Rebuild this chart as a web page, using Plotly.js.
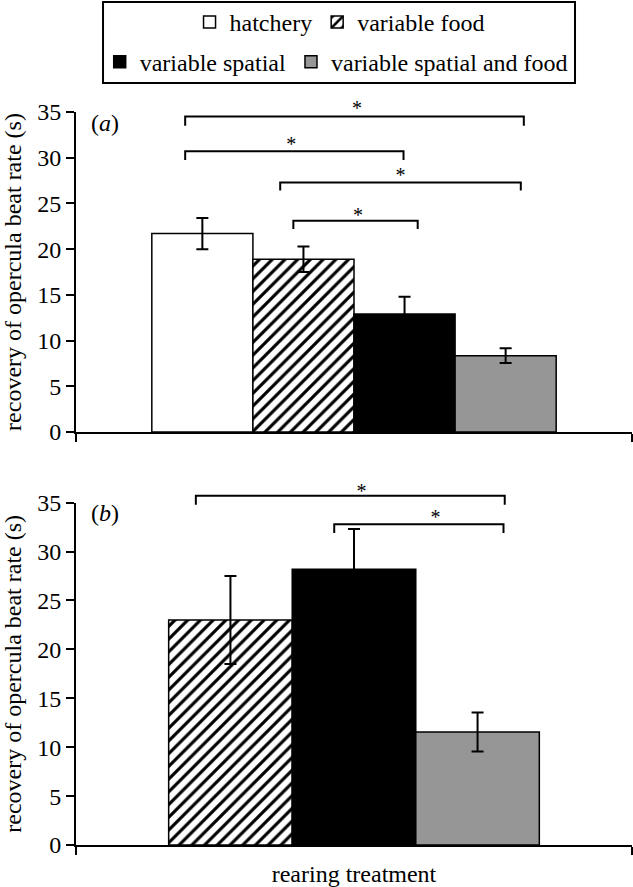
<!DOCTYPE html>
<html><head><meta charset="utf-8">
<script src="https://cdn.plot.ly/plotly-3.0.1.min.js"></script>
<style>html,body{margin:0;padding:0;background:#fff}</style>
</head><body><div id="chart" style="width:633px;height:887px"></div>
<script>
// ---- data ----
const categories = ['hatchery', 'variable food', 'variable spatial', 'variable spatial and food'];
const valuesA = [21.7, 18.9, 12.9, 8.35];
const errorsA = [1.7, 1.4, 1.9, 0.8];
const valuesB = [null, 23.0, 28.2, 11.55];
const errorsB = [null, 4.5, 4.1, 2.0];
const fillColors = ['#ffffff', '#ffffff', '#000000', '#969696'];
const patternShapes = ['', '/', '', ''];
const yTickVals = [0, 5, 10, 15, 20, 25, 30, 35];
const panelLabels = ['(<i>a</i>)', '(<i>b</i>)'];

// significance brackets, panel (a)
const bracketsA_x0 = [0.83, 0.83, 1.77, 1.90];
const bracketsA_x1 = [4.18, 2.99, 4.15, 3.13];
const bracketsA_y = [34.5, 30.7, 27.3, 23.1];
const bracketsA_drop = [1.0, 0.95, 0.9, 0.9];
const starsA_x = [2.53, 1.88, 2.96, 2.54];
const starsA_y = [35.2, 31.3, 27.9, 23.5];
// significance brackets, panel (b)
const bracketsB_x0 = [0.72, 1.84];
const bracketsB_x1 = [3.22, 3.21];
const bracketsB_y = [35.7, 32.8];
const bracketsB_drop = [0.9, 0.9];
const starsB_x = [2.06, 2.66];
const starsB_y = [35.95, 33.35];

// ---- build ----
const FONT = 'Liberation Serif, Times New Roman, serif';
const Y_MAX = 35, Y_EXT = 40;
const domA = [0.48876, 0.86746];
const domB = [0, 0.40509];
const extTop = d => d[0] + (d[1] - d[0]) * Y_EXT / Y_MAX;

const traces = [];
let posB = 0;
categories.forEach((c, i) => {
  const marker = {
    color: fillColors[i],
    line: {color: '#000', width: 1.5},
    pattern: {shape: patternShapes[i], fgcolor: '#000', bgcolor: fillColors[i], size: 9, solidity: 0.35}
  };
  traces.push({
    type: 'bar', name: c, x: [i + 1], y: [valuesA[i]], width: [1],
    xaxis: 'x', yaxis: 'y', marker: marker,
    error_y: {type: 'data', array: [errorsA[i]], color: '#000', thickness: 2, width: 6},
    legend: i < 2 ? 'legend' : 'legend2', showlegend: true, hoverinfo: 'skip'
  });
  if (valuesB[i] !== null) {
    posB += 1;
    traces.push({
      type: 'bar', name: c, x: [posB], y: [valuesB[i]], width: [1],
      xaxis: 'x2', yaxis: 'y2', marker: marker,
      error_y: {type: 'data', array: [errorsB[i]], color: '#000', thickness: 2, width: 6},
      showlegend: false, hoverinfo: 'skip'
    });
  }
});

function addBrackets(x0s, x1s, ys, drops, sx, sy, xa, ya) {
  x0s.forEach((x0, k) => {
    traces.push({
      type: 'scatter', mode: 'lines', xaxis: xa, yaxis: ya,
      x: [x0, x0, x1s[k], x1s[k]],
      y: [ys[k] - drops[k], ys[k], ys[k], ys[k] - drops[k]],
      line: {color: '#000', width: 2}, cliponaxis: false, showlegend: false, hoverinfo: 'skip'
    });
  });
  traces.push({
    type: 'scatter', mode: 'text', xaxis: xa, yaxis: ya,
    x: sx, y: sy, text: sx.map(() => '*'), textposition: 'middle center',
    textfont: {family: FONT, size: 20, color: '#000'},
    cliponaxis: false, showlegend: false, hoverinfo: 'skip'
  });
}
// brackets live on hidden axes that share the bar axes' scale but reach a little higher
addBrackets(bracketsA_x0, bracketsA_x1, bracketsA_y, bracketsA_drop, starsA_x, starsA_y, 'x', 'y3');
addBrackets(bracketsB_x0, bracketsB_x1, bracketsB_y, bracketsB_drop, starsB_x, starsB_y, 'x2', 'y4');

const xBase = {
  showgrid: false, zeroline: false, showline: true, linecolor: '#000', linewidth: 2,
  tickmode: 'array', ticks: 'outside', ticklen: 8, tickwidth: 2, tickcolor: '#000',
  showticklabels: false, fixedrange: true
};
const yBase = {
  range: [0, Y_MAX], tickmode: 'array', tickvals: yTickVals, ticks: 'outside', ticklen: 8,
  tickwidth: 2, tickcolor: '#000', showline: true, linecolor: '#000', linewidth: 2,
  showgrid: false, zeroline: false, tickfont: {family: FONT, size: 24, color: '#000'},
  automargin: 'left', fixedrange: true
};
const yHidden = {
  range: [0, Y_EXT], visible: false, showgrid: false, zeroline: false, showline: false,
  showticklabels: false, ticks: '', fixedrange: true
};
const legendBase = {
  orientation: 'h', xanchor: 'center', yanchor: 'top', bgcolor: 'rgba(0,0,0,0)',
  borderwidth: 0, font: {family: FONT, size: 24, color: '#000'}, traceorder: 'normal',
  itemclick: false, itemdoubleclick: false
};

const layout = {
  width: 633, height: 887,
  margin: {l: 76, r: 1, t: 0, b: 42},
  paper_bgcolor: '#fff', plot_bgcolor: 'rgba(0,0,0,0)',
  font: {family: FONT, size: 24, color: '#000'},
  barmode: 'overlay',
  xaxis: Object.assign({}, xBase, {domain: [0, 1], anchor: 'y', range: [-0.25, 5.25], tickvals: [-0.25, 5.25]}),
  yaxis: Object.assign({}, yBase, {domain: domA, anchor: 'x',
    title: {text: 'recovery of opercula beat rate (s)', font: {family: FONT, size: 24}, standoff: 12}}),
  xaxis2: Object.assign({}, xBase, {domain: [0, 1], anchor: 'y2', range: [-0.25, 4.25], tickvals: [-0.25, 4.25],
    title: {text: 'rearing treatment', font: {family: FONT, size: 24}}}),
  yaxis2: Object.assign({}, yBase, {domain: domB, anchor: 'x2',
    title: {text: 'recovery of opercula beat rate (s)', font: {family: FONT, size: 24}, standoff: 12}}),
  yaxis3: Object.assign({}, yHidden, {domain: [domA[0], extTop(domA)], anchor: 'x'}),
  yaxis4: Object.assign({}, yHidden, {domain: [domB[0], extTop(domB)], anchor: 'x2'}),
  legend: Object.assign({}, legendBase, {x: 0.474, y: 1.0}),
  legend2: Object.assign({}, legendBase, {x: 0.468, y: 0.953}),
  shapes: [{type: 'rect', xref: 'paper', yref: 'paper', x0: 0.0486, x1: 0.8975, y0: 0.9018, y1: 0.9976,
    line: {color: '#000', width: 2}, fillcolor: 'rgba(0,0,0,0)'}],
  annotations: [
    {xref: 'x domain', yref: 'y domain', x: 0.052, y: 0.966, text: panelLabels[0], showarrow: false,
      xanchor: 'center', yanchor: 'middle', font: {family: FONT, size: 24, color: '#000'}},
    {xref: 'x2 domain', yref: 'y2 domain', x: 0.052, y: 0.97, text: panelLabels[1], showarrow: false,
      xanchor: 'center', yanchor: 'middle', font: {family: FONT, size: 24, color: '#000'}}
  ],
  showlegend: true
};

Plotly.newPlot('chart', traces, layout, {displayModeBar: false, staticPlot: true});
</script>
</body></html>
